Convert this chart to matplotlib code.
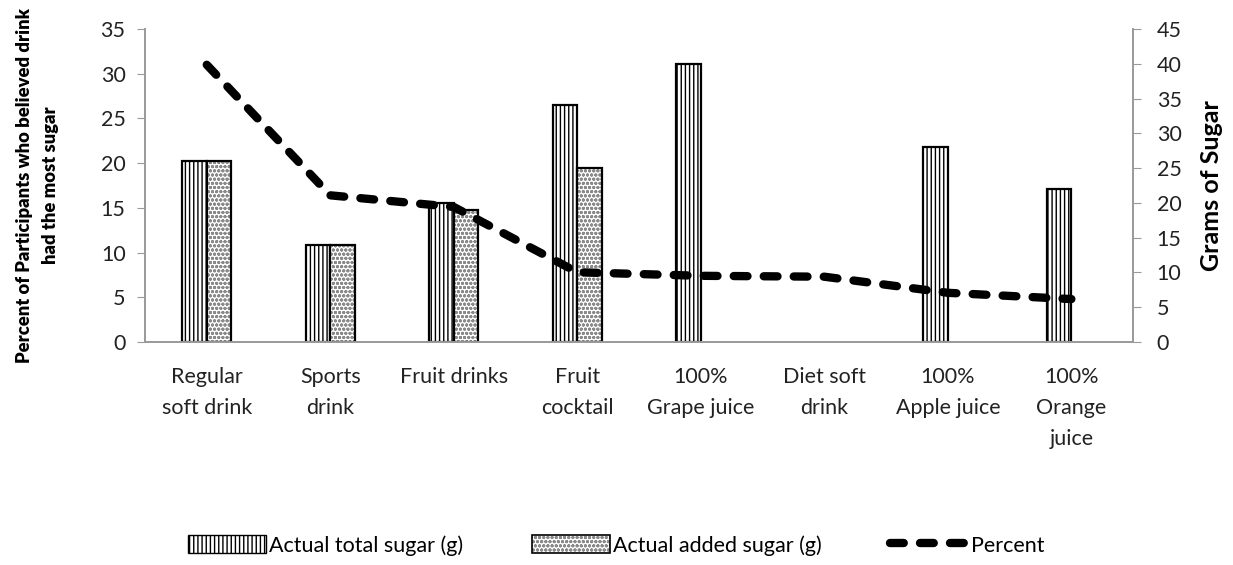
import matplotlib
matplotlib.use("Agg")
import matplotlib.pyplot as plt
import numpy as np
from matplotlib.patches import Patch
from matplotlib.lines import Line2D
from matplotlib.legend_handler import HandlerTuple

plt.rcParams['font.family'] = ['Lato', 'DejaVu Sans']
plt.rcParams['hatch.linewidth'] = 1.0

categories = ["Regular\nsoft drink", "Sports\ndrink", "Fruit drinks", "Fruit\ncocktail",
              "100%\nGrape juice", "Diet soft\ndrink", "100%\nApple juice", "100%\nOrange\njuice"]
total_sugar = [26, 14, 20, 34, 40, 0, 28, 22]
added_sugar = [26, 14, 19, 25, 0, 0, 0, 0]
percent = [31.0, 16.4, 15.1, 7.8, 7.4, 7.3, 5.5, 4.8]
left_ticks = [0, 5, 10, 15, 20, 25, 30, 35]
right_ticks = [0, 5, 10, 15, 20, 25, 30, 35, 40, 45]

fig = plt.figure(figsize=(12.33, 5.65), dpi=100)
ax = fig.add_axes([0.1176, 0.3947, 0.919 - 0.1176, 0.9487 - 0.3947])
ax2 = ax.twinx()

x = np.arange(len(categories))
w = 0.2
lw_total = [1.6 if v > 0 else 0 for v in total_sugar]
lw_added = [1.6 if v > 0 else 0 for v in added_sugar]
ax2.bar(x - w / 2, total_sugar, w, color='white', edgecolor='black', hatch='||||', linewidth=lw_total)
ax2.bar(x + w / 2, added_sugar, w, color='white', edgecolor='#8a8a8a', hatch='oooo', linewidth=0)
ax2.bar(x + w / 2, added_sugar, w, fill=False, edgecolor='black', linewidth=lw_added)

ls = (0, (1.65, 1.95))
ax.plot(x, percent, color='black', lw=6, linestyle=ls, dash_capstyle='round')

ax.set_zorder(ax2.get_zorder() + 1)
ax.patch.set_visible(False)

ax.set_xlim(-0.5, len(categories) - 0.5)
ax.set_ylim(0, 35)
ax2.set_ylim(0, 45)
ax.set_yticks(left_ticks)
ax2.set_yticks(right_ticks)
ax.set_xticks(x)
ax.set_xticklabels(categories, fontsize=15.5, color='#222222', linespacing=1.7, va='top')
ax.tick_params(axis='x', length=0, pad=18)
ax.tick_params(axis='y', labelsize=15.5, colors='#222222', length=6, color='#999999', pad=8)
ax2.tick_params(axis='y', labelsize=15.5, colors='#222222', length=6, color='#999999', pad=11)

for a in (ax, ax2):
    a.spines['top'].set_visible(False)
    for s in ('left', 'right', 'bottom'):
        a.spines[s].set_color('#999999')
        a.spines[s].set_linewidth(1.2)

ax.set_ylabel("Percent of Participants who believed drink\nhad the most sugar", fontsize=13.2,
              fontweight='heavy', linespacing=1.6, labelpad=30)
ax2.set_ylabel("Grams of Sugar", fontsize=18, fontweight='bold', labelpad=13)

added_handle = (Patch(facecolor='white', edgecolor='#8a8a8a', hatch='oooo', linewidth=0),
                Patch(fill=False, edgecolor='black', linewidth=1.2))
handles = [
    Patch(facecolor='white', edgecolor='black', hatch='||||', label='Actual total sugar (g)'),
    added_handle,
    Line2D([0], [0], color='black', lw=6, linestyle=ls, dash_capstyle='round'),
]
labels = ['Actual total sugar (g)', 'Actual added sugar (g)', 'Percent']
fig.legend(handles=handles, labels=labels, loc='center', bbox_to_anchor=(0.5, 0.035), ncol=3,
           frameon=False, fontsize=15.5, handlelength=3.6, handleheight=0.9, columnspacing=3.2,
           handletextpad=0.15, handler_map={tuple: HandlerTuple(ndivide=1, pad=0)})

fig.savefig("out.png", dpi=100)
